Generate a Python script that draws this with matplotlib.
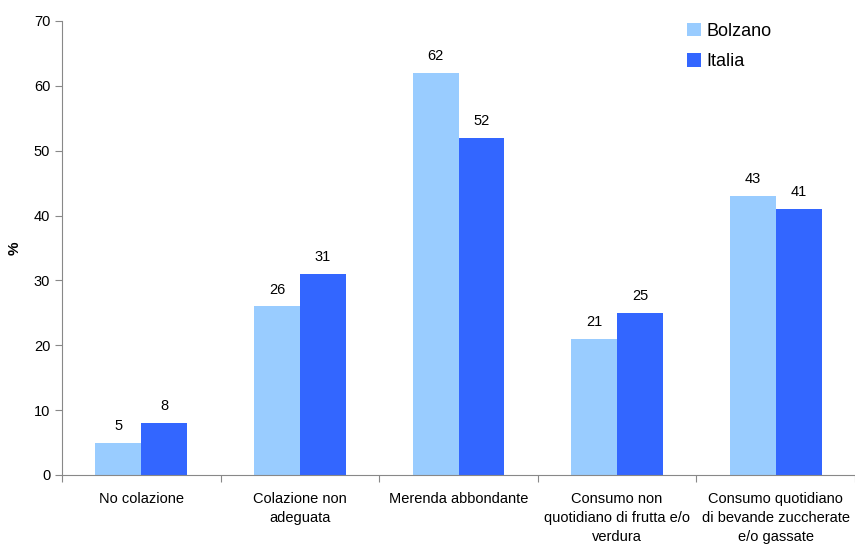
import matplotlib
matplotlib.use("Agg")
import matplotlib.pyplot as plt
import numpy as np

categories = ["No colazione", "Colazione non\nadeguata", "Merenda abbondante",
              "Consumo non\nquotidiano di frutta e/o\nverdura",
              "Consumo quotidiano\ndi bevande zuccherate\ne/o gassate"]
bolzano = [5, 26, 62, 21, 43]
italia = [8, 31, 52, 25, 41]
series_names = ["Bolzano", "Italia"]

plt.rcParams['font.family'] = ['Liberation Sans', 'DejaVu Sans']

fig = plt.figure(figsize=(8.55, 5.44), dpi=100)
ax = fig.add_axes([62/855, 69/544, 793/855, 454/544])

x = np.arange(len(categories))
w = 0.29
b1 = ax.bar(x - w/2, bolzano, w, color="#99CCFF", label=series_names[0])
b2 = ax.bar(x + w/2, italia, w, color="#3366FF", label=series_names[1])

for bars in (b1, b2):
    for r in bars:
        ax.text(r.get_x() + r.get_width()/2, r.get_height() + 1.5, f"{r.get_height():g}",
                ha="center", va="bottom", fontsize=10.5)

ax.set_xlim(-0.5, len(categories) - 0.5)
ax.set_ylim(0, 70)
ax.set_yticks(range(0, 71, 10))
ax.set_xticks(np.arange(-0.5, len(categories) + 0.5, 1))
ax.set_xticklabels([])
ax.set_xticks(x, minor=True)
ax.set_xticklabels(categories, minor=True, fontsize=10.5, linespacing=1.45)
ax.tick_params(axis='x', which='minor', length=0, pad=12)
ax.tick_params(axis='x', which='major', length=5, color="#888888")
ax.tick_params(axis='y', length=5, color="#888888", labelsize=10.5)

for s in ["top", "right"]:
    ax.spines[s].set_visible(False)
for s in ["left", "bottom"]:
    ax.spines[s].set_color("#888888")

ax.set_ylabel("%", fontsize=11, fontweight="bold")
ax.yaxis.set_label_coords(-40/793, 0.5)

leg = ax.legend(loc="upper left", bbox_to_anchor=(611/793, 1.028), frameon=False,
                fontsize=13, handlelength=0.75, handleheight=0.75, handletextpad=0.3,
                labelspacing=0.75, borderpad=0.3)

fig.savefig("out.png", dpi=100)
